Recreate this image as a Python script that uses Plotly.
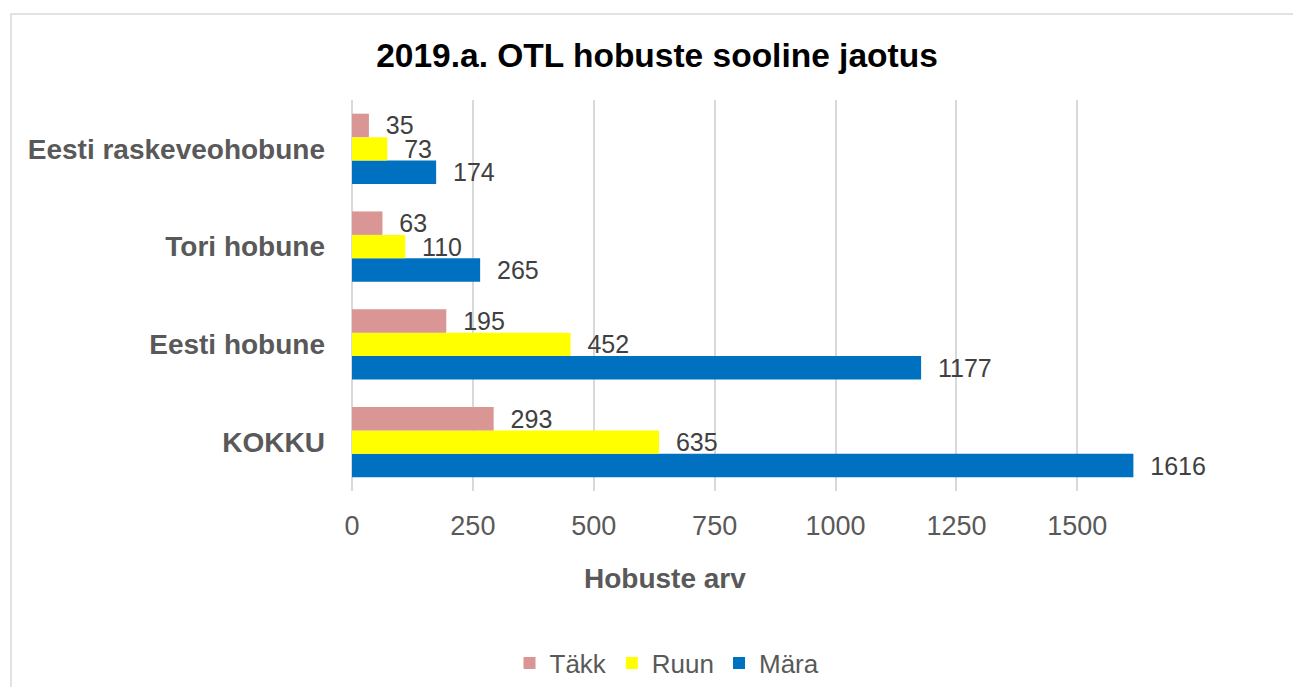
import plotly.graph_objects as go

# Horse breeds (bottom to top as drawn)
breeds = ["KOKKU", "Eesti hobune", "Tori hobune", "Eesti raskeveohobune"]

# Counts per sex
takk = [293, 195, 63, 35]
ruun = [635, 452, 110, 73]
mara = [1616, 1177, 265, 174]

# the page puts an 8px body margin around the figure
OFF = 8
W, H = 1301 - 2 * OFF, 695 - 2 * OFF
L, R, T, B = 352 - OFF, 1174 - OFF, 100 - OFF, 491 - OFF  # plot area

def px_x(p):
    return (p - OFF - L) / (R - L)

def px_y(p):
    return (B - (p - OFF)) / (B - T)

font = "Liberation Sans, Arial, sans-serif"

fig = go.Figure()
# added bottom-up so that Täkk ends up on top of each group
for name, vals, col in [("Mära", mara, "#0070C0"),
                        ("Ruun", ruun, "#FFFF00"),
                        ("Täkk", takk, "#DA9694")]:
    fig.add_trace(go.Bar(
        y=breeds, x=vals, name=name, orientation="h",
        marker=dict(color=col, line=dict(width=0)),
        text=vals, texttemplate="  %{x}", textposition="outside",
        textfont=dict(size=25, color="#404040", family=font),
        cliponaxis=False, constraintext="none",
    ))

fig.update_layout(
    width=W, height=H,
    margin=dict(l=L, r=W - R, t=T, b=H - B),
    barmode="group", bargap=0.28, bargroupgap=0,
    plot_bgcolor="white", paper_bgcolor="white",
    font=dict(family=font, color="#595959"),
    title=dict(text="<b>2019.a. OTL hobuste sooline jaotus</b>",
               x=(657 - OFF) / W, xref="container", xanchor="center",
               y=1 - (55 - OFF) / H, yref="container", yanchor="middle",
               font=dict(size=33.5, color="black", family=font)),
    legend=dict(orientation="h", traceorder="reversed",
                xref="container", x=(667 - OFF) / W, xanchor="center",
                yref="container", y=1 - (663 - OFF) / H, yanchor="middle",
                font=dict(size=26, color="#595959", family=font),
                itemwidth=30),
    showlegend=True,
)

fig.update_xaxes(range=[0, 1700], tickvals=[0, 250, 500, 750, 1000, 1250, 1500],
                 showgrid=True, gridcolor="#d9d9d9", gridwidth=1.5,
                 zeroline=True, zerolinecolor="#d9d9d9", zerolinewidth=1.5,
                 tickfont=dict(size=27, color="#595959"), ticklabelstandoff=16,
                 showline=False)
fig.update_yaxes(tickfont=dict(size=28, color="#595959"),
                 tickvals=breeds, ticktext=["<b>" + b + "</b>" for b in breeds],
                 ticklabelstandoff=26, showgrid=False, showline=False)

fig.add_annotation(text="<b>Hobuste arv</b>", xref="paper", yref="paper",
                   x=px_x(665), y=px_y(578), xanchor="center", yanchor="middle",
                   showarrow=False,
                   font=dict(size=28, color="#595959", family=font))

# chart border
fig.add_shape(type="rect", xref="paper", yref="paper",
              x0=px_x(11), x1=px_x(1320), y0=px_y(720), y1=px_y(14),
              line=dict(color="#d9d9d9", width=1.5), layer="below")

fig.write_html("out.html")
